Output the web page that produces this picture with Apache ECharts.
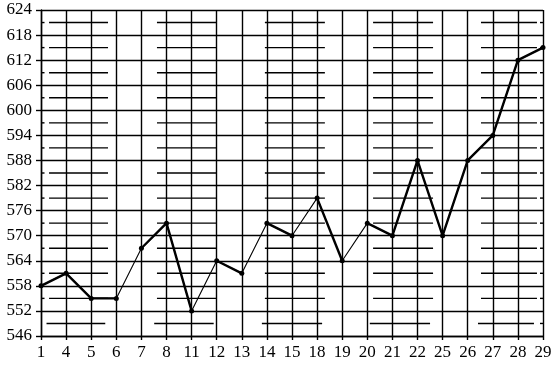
<!DOCTYPE html>
<html>
<head>
<meta charset="utf-8">
<script src="https://cdn.jsdelivr.net/npm/echarts@6/dist/echarts.min.js"></script>
<style>html,body{margin:0;padding:0;background:#fff}#c{width:558px;height:368px}</style>
</head>
<body>
<div id="c"></div>
<script>
// Data
const categories = ['1','4','5','6','7','8','11','12','13','14','15','18','19','20','21','22','25','26','27','28','29'];
const values = [558,561,555,555,567,573,552,564,561,573,570,579,564,573,570,588,570,588,594,612,615];
// runs of thick segments (start index, end index)
const thickRuns = [[0,3],[4,6],[7,8],[9,10],[11,12],[13,20]];
// y-axis
const yMin = 546, yMax = 624, yStep = 6;
// half-step decorative grid segments (in category-index units)
const halfSegs = [[0,0.14],[0.32,2.67],[4.62,7.01],[8.92,11.31],[13.23,15.62],[17.53,19.76],[19.88,20]];
const bottomHalfSegs = [[0.22,2.56],[4.51,6.88],[8.8,11.2],[13.1,15.5],[17.41,19.64],[19.88,20]];

const halfData = [];
for (let y = yMin + yStep/2; y < yMax; y += yStep) {
  const segs = (y === yMin + yStep/2) ? bottomHalfSegs : halfSegs;
  segs.forEach(s => halfData.push([s[0], s[1], y]));
}

const chart = echarts.init(document.getElementById('c'), null, {renderer:'canvas'});
const font = 'Liberation Serif';
const series = [
  {
    type: 'custom',
    xAxisIndex: 1,
    yAxisIndex: 0,
    data: halfData,
    silent: true,
    z: 1,
    encode: {x:[0,1], y:2},
    renderItem: function(params, api){
      const p0 = api.coord([api.value(0), api.value(2)]);
      const p1 = api.coord([api.value(1), api.value(2)]);
      return {type:'line', shape:{x1:p0[0], y1:p0[1], x2:p1[0], y2:p1[1]}, style:{stroke:'#000', lineWidth:1.4}};
    }
  },
  {
    type: 'line',
    data: values,
    z: 3,
    symbol: 'circle',
    symbolSize: 5,
    itemStyle: {color:'#000'},
    lineStyle: {color:'#000', width:1.1},
    animation: false
  }
];
thickRuns.forEach(r => {
  const d = values.map((v,i) => (i >= r[0] && i <= r[1]) ? v : null);
  series.push({
    type:'line', data:d, z:4, symbol:'none', connectNulls:false,
    lineStyle:{color:'#000', width:2.4}, animation:false
  });
});

chart.setOption({
  animation: false,
  backgroundColor: '#fff',
  grid: {left:41, right:15, top:10, bottom:32, containLabel:false},
  xAxis: [
    {
      type:'category', data: categories, boundaryGap:false,
      axisLine:{show:true, lineStyle:{color:'#000', width:1.4}},
      axisTick:{show:true, length:4, inside:false, lineStyle:{color:'#000', width:1.4}},
      splitLine:{show:true, lineStyle:{color:'#000', width:1.4}},
      axisLabel:{color:'#000', fontFamily:font, fontSize:17, margin:8, interval:0}
    },
    {
      type:'value', min:0, max:20, show:false, gridIndex:0
    }
  ],
  yAxis: {
    type:'value', min:yMin, max:yMax, interval:yStep,
    axisLine:{show:true, lineStyle:{color:'#000', width:1.4}},
    axisTick:{show:true, length:5, lineStyle:{color:'#000', width:1.4}},
    splitLine:{show:true, lineStyle:{color:'#000', width:1.4}},
    axisLabel:{color:'#000', fontFamily:font, fontSize:17, margin:9}
  },
  series: series
});
</script>
</body>
</html>
